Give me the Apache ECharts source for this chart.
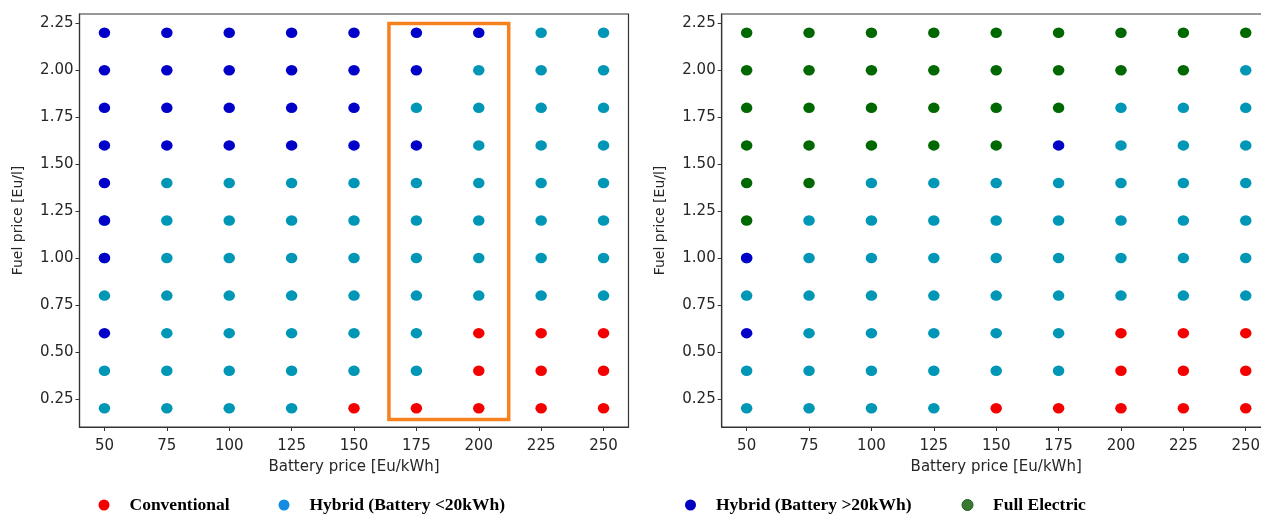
<!DOCTYPE html>
<html>
<head>
<meta charset="utf-8">
<script src="https://cdn.jsdelivr.net/npm/echarts@6/dist/echarts.min.js"></script>
<style>html,body{margin:0;padding:0;background:#fff;}#chart{width:1261px;height:515px;}</style>
</head>
<body>
<div id="chart"></div>
<script>
// ---- data ----
const batteryPrices = [50, 75, 100, 125, 150, 175, 200, 225, 250];
const fuelPrices = [2.2, 2.0, 1.8, 1.6, 1.4, 1.2, 1.0, 0.8, 0.6, 0.4, 0.2];
const xTicks = [50, 75, 100, 125, 150, 175, 200, 225, 250];
const yTicks = [0.25, 0.5, 0.75, 1.0, 1.25, 1.5, 1.75, 2.0, 2.25];
const categories = ['Conventional', 'Hybrid (Battery <20kWh)', 'Hybrid (Battery >20kWh)', 'Full Electric'];
// codes: C conventional, h hybrid <20, H hybrid >20, F full electric, X both hybrids overlapping
const leftRows = [
  'HHHHHHHhh',
  'HHHHHHhhh',
  'HHHHHhhhh',
  'HHHHHHhhh',
  'Hhhhhhhhh',
  'Xhhhhhhhh',
  'Xhhhhhhhh',
  'hhhhhhhhh',
  'HhhhhhCCC',
  'hhhhhhCCC',
  'hhhhCCCCC'
];
const rightRows = [
  'FFFFFFFFF',
  'FFFFFFFFh',
  'FFFFFFhhh',
  'FFFFFHhhh',
  'FFhhhhhhh',
  'Fhhhhhhhh',
  'Xhhhhhhhh',
  'hhhhhhhhh',
  'HhhhhhCCC',
  'hhhhhhCCC',
  'hhhhCCCCC'
];
const highlightBox = [[164, 0.14], [212, 2.25]];

// ---- build ----
const codeMap = { C: [0], h: [1], H: [2], F: [3], X: [1, 2] };
function buildData(rows) {
  const out = [[], [], [], []];
  rows.forEach((row, ri) => {
    row.split('').forEach((code, ci) => {
      codeMap[code].forEach(k => out[k].push([batteryPrices[ci], fuelPrices[ri]]));
    });
  });
  return out;
}
const leftData = buildData(leftRows);
const rightData = buildData(rightRows);

const dotColors = ['#f50000', '#0096b6', '#0000c8', '#006800'];
const legendColors = [
  { color: '#f20000' },
  { color: '#148ce2' },
  { color: '#0000c0' },
  { color: '#3a7a30', borderColor: '#1d5f1d', borderWidth: 1 }
];

const font = 'DejaVu Sans';
function xAxis(gi) {
  return {
    type: 'value', gridIndex: gi, min: 40, max: 260,
    name: 'Battery price [Eu/kWh]', nameLocation: 'middle', nameGap: 33,
    nameTextStyle: { fontFamily: font, fontSize: 15, color: '#262626' },
    axisLine: { show: true, onZero: false, lineStyle: { color: '#333', width: 1.2 } },
    axisTick: { show: true, length: 4, customValues: xTicks, lineStyle: { color: '#333' } },
    axisLabel: { customValues: xTicks, margin: 12, fontFamily: font, fontSize: 15, color: '#262626' },
    splitLine: { show: false }
  };
}
function yAxis(gi, gap) {
  return {
    type: 'value', gridIndex: gi, min: 0.1, max: 2.3,
    name: 'Fuel price [Eu/l]', nameLocation: 'middle', nameGap: gap,
    nameTextStyle: { fontFamily: font, fontSize: 14, color: '#262626' },
    axisLine: { show: true, onZero: false, lineStyle: { color: '#333', width: 1.2 } },
    axisTick: { show: true, length: 4, customValues: yTicks, lineStyle: { color: '#333' } },
    axisLabel: { customValues: yTicks, margin: 6, fontFamily: font, fontSize: 15, color: '#262626',
      formatter: v => Number(v).toFixed(2) },
    splitLine: { show: false }
  };
}

const series = [];
[leftData, rightData].forEach((d, gi) => {
  categories.forEach((name, k) => {
    series.push({
      name: name, type: 'scatter', xAxisIndex: gi, yAxisIndex: gi,
      symbol: 'circle', symbolSize: [11.5, 10.5],
      itemStyle: { color: dotColors[k], opacity: 1 },
      data: d[k], z: 2 + k, silent: true
    });
  });
});
// orange highlight box on left chart
series[1].markArea = {
  silent: true,
  itemStyle: { color: 'rgba(0,0,0,0)', borderColor: '#f6821f', borderWidth: 3.5 },
  data: [[{ coord: highlightBox[0] }, { coord: highlightBox[1] }]]
};

function legend(i, left) {
  return {
    left: left, top: 496, padding: 0, itemWidth: 13, itemHeight: 11, icon: 'circle',
    selectedMode: false,
    data: [{ name: categories[i], itemStyle: legendColors[i] }],
    textStyle: { fontFamily: 'Liberation Serif', fontWeight: 'bold', fontSize: 17.5, color: '#000',
      padding: [0, 0, 0, 14] }
  };
}

const chart = echarts.init(document.getElementById('chart'), null, { renderer: 'canvas' });
chart.setOption({
  animation: false,
  backgroundColor: '#fff',
  grid: [
    { left: 79.5, top: 14, width: 549, height: 413, show: true, borderColor: '#333', borderWidth: 1.2, outerBoundsMode: 'none', containLabel: false },
    { left: 721.7, top: 14, width: 549, height: 413, show: true, borderColor: '#333', borderWidth: 1.2, outerBoundsMode: 'none', containLabel: false }
  ],
  xAxis: [xAxis(0), xAxis(1)],
  yAxis: [yAxis(0, 54), yAxis(1, 54)],
  legend: [legend(0, 98.5), legend(1, 278.5), legend(2, 685), legend(3, 961.5)],
  series: series
});
</script>
</body>
</html>
